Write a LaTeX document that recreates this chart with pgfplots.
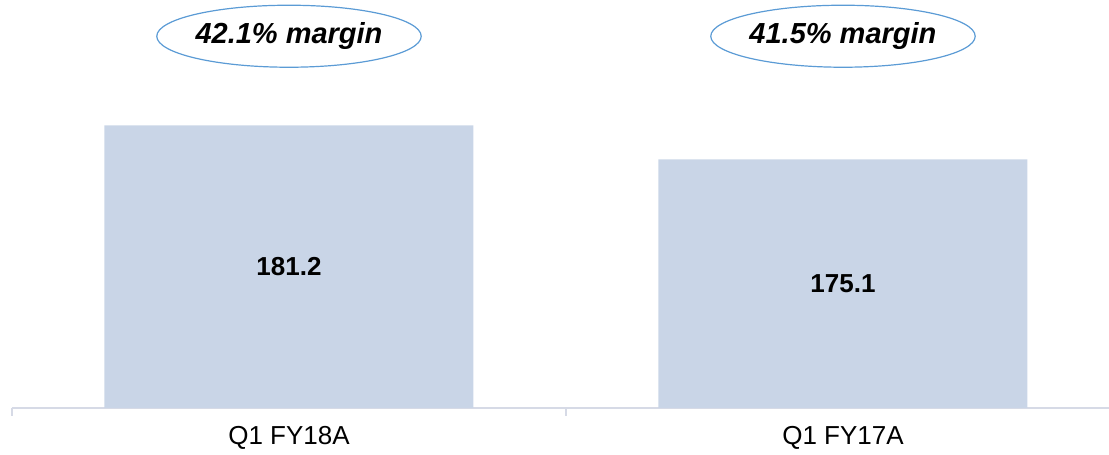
\documentclass[border=0pt]{standalone}
\usepackage{pgfplots}
\pgfplotsset{compat=1.18}
\usepackage{fontspec}
\setmainfont{Liberation Sans}
\usetikzlibrary{shapes.geometric}
\definecolor{barfill}{RGB}{201,213,231}
\definecolor{axisgray}{RGB}{214,218,230}
\definecolor{ellblue}{RGB}{91,155,213}
\begin{document}
\begin{tikzpicture}
\path[use as bounding box] (-12pt,-47pt) rectangle (1097pt,408pt);
\begin{axis}[
  at={(0,0)}, anchor=south west,
  scale only axis,
  width=1108pt, height=408pt,
  xmin=-0.5, xmax=1.5,
  ymin=130.5, ymax=203.7,
  axis y line=none,
  axis x line*=bottom,
  axis line style={axisgray, line width=1.5pt, -},
  xtick={0,1},
  xticklabels={Q1 FY18A, Q1 FY17A},
  major tick length=0pt,
  extra x ticks={-0.5,0.5,1.5},
  extra x tick labels={},
  extra x tick style={major tick length=8pt, tick align=outside, tick style={axisgray, line width=1.5pt}},
  xticklabel style={font=\fontsize{26}{30}\selectfont, yshift=-15pt},
  clip=false,
  ybar, bar width=369pt,
  bar shift=0pt,
]
\addplot[fill=barfill, draw=none] coordinates {(0,181.2) (1,175.1)};
\node[font=\fontsize{26}{30}\selectfont\bfseries] at (axis cs:0,155.85) {181.2};
\node[font=\fontsize{26}{30}\selectfont\bfseries] at (axis cs:1,152.8) {175.1};
\node[ellipse, draw=ellblue, line width=1.2pt, minimum width=263pt, minimum height=62pt, inner sep=0pt,
  font=\fontsize{29}{33}\selectfont\bfseries\itshape] at (axis cs:0,197.2) {42.1\% margin};
\node[ellipse, draw=ellblue, line width=1.2pt, minimum width=263pt, minimum height=62pt, inner sep=0pt,
  font=\fontsize{29}{33}\selectfont\bfseries\itshape] at (axis cs:1,197.2) {41.5\% margin};
\end{axis}
\end{tikzpicture}
\end{document}
